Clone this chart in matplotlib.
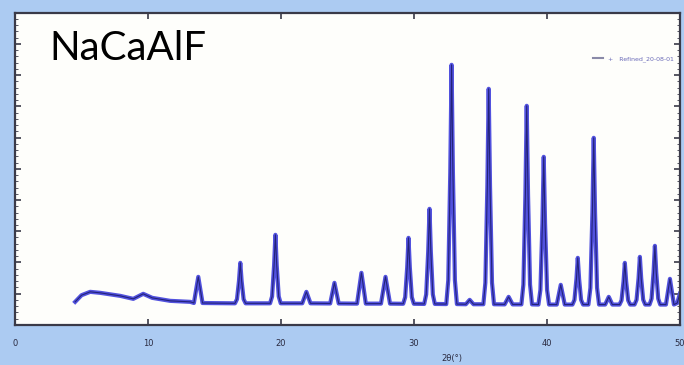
import matplotlib.pyplot as plt
from matplotlib.lines import Line2D
from matplotlib.ticker import MultipleLocator

# XRD pattern (2-theta in degrees, counts)
two_theta = [
    4.52, 5.00, 5.65, 6.40, 7.91, 8.89, 9.64, 10.32, 11.67, 13.18,
    13.45, 13.78, 14.10,
    16.54, 16.69, 16.84, 16.94, 17.04, 17.19, 17.34,
    19.18, 19.33, 19.48, 19.58, 19.68, 19.83, 19.98,
    21.60, 21.91, 22.22,
    23.70, 24.02, 24.34,
    25.72, 26.05, 26.38,
    27.52, 27.86, 28.20,
    29.19, 29.34, 29.49, 29.59, 29.69, 29.84, 29.99,
    30.77, 30.92, 31.07, 31.17, 31.27, 31.42, 31.57,
    32.43, 32.58, 32.73, 32.83, 32.93, 33.08, 33.23,
    33.90, 34.19, 34.48,
    35.22, 35.37, 35.52, 35.62, 35.72, 35.87, 36.02,
    36.82, 37.12, 37.42,
    38.08, 38.23, 38.38, 38.48, 38.58, 38.73, 38.88,
    39.36, 39.51, 39.66, 39.76, 39.86, 40.01, 40.16,
    40.74, 41.04, 41.34,
    41.92, 42.07, 42.22, 42.32, 42.42, 42.57, 42.72,
    43.12, 43.27, 43.42, 43.52, 43.62, 43.77, 43.92,
    44.38, 44.65, 44.92,
    45.46, 45.61, 45.76, 45.86, 45.96, 46.11, 46.26,
    46.59, 46.74, 46.89, 46.99, 47.09, 47.24, 47.39,
    47.72, 47.87, 48.02, 48.12, 48.22, 48.37, 48.52,
    48.95, 49.25, 49.55,
    49.80, 50.00,
]
intensity = [
    737, 950, 1058, 1026, 929, 833, 994, 865, 769, 737,
    700, 1538, 700,
    690, 820, 1403, 1987, 1403, 820, 690,
    690, 910, 1897, 2885, 1897, 910, 690,
    690, 1058, 690,
    685, 1346, 685,
    680, 1667, 680,
    680, 1538, 680,
    675, 886, 1837, 2788, 1837, 886, 675,
    670, 975, 2346, 3718, 2346, 975, 670,
    665, 1432, 4882, 8333, 4882, 1432, 665,
    660, 801, 660,
    660, 1350, 4457, 7564, 4457, 1350, 660,
    655, 897, 655,
    655, 1291, 4155, 7019, 4155, 1291, 655,
    650, 1123, 3254, 5384, 3254, 1123, 650,
    650, 1282, 650,
    650, 800, 1473, 2147, 1473, 800, 650,
    650, 1184, 3589, 5993, 3589, 1184, 650,
    650, 897, 650,
    650, 784, 1385, 1987, 1385, 784, 650,
    650, 803, 1491, 2179, 1491, 803, 650,
    650, 838, 1685, 2532, 1685, 838, 650,
    650, 1474, 650,
    700, 1000,
]
x_ticks = [0, 10, 20, 30, 40, 50]
legend_label = "+   Refined_20-08-01"
title_text = "NaCaAlF"

fig = plt.figure(figsize=(6.84, 3.65), dpi=100, facecolor="#accbf2")
ax = fig.add_axes([0.022, 0.11, 0.972, 0.855])
ax.set_facecolor("#fefefb")

# wide blue trace with a darker core, like the blurry original
ax.plot(two_theta, intensity, color="#5252de", lw=3.0, solid_joinstyle="round")
ax.plot(two_theta, intensity, color="#23237a", lw=0.8)

ax.set_xlim(0, 50)
ax.set_ylim(0, 10000)
ax.set_xticks(x_ticks)
ax.yaxis.set_major_locator(MultipleLocator(1000))
ax.yaxis.set_minor_locator(MultipleLocator(200))
ax.tick_params(which="both", direction="in", top=True, right=True,
               color="#3a3a48")
ax.tick_params(which="major", length=4, width=1.2)
ax.tick_params(which="minor", length=2, width=0.6)
ax.tick_params(axis="x", labelsize=6, pad=10, labelcolor="#2a2a40")
ax.tick_params(axis="y", labelleft=False)
for sp in ax.spines.values():
    sp.set_color("#3a3a48")
    sp.set_linewidth(1.6)

ax.set_xlabel("2θ(°)", fontsize=6, color="#2a2a40")
ax.xaxis.set_label_coords(0.657, -0.095)

handle = Line2D([], [], color="#8a8aa8", lw=1.5)
ax.legend([handle], [legend_label], loc="upper right",
          bbox_to_anchor=(1.0, 0.88), frameon=False, fontsize=4.5,
          handlelength=1.6, labelcolor="#6a6ab8")

fig.text(49 / 684, 1 - 60 / 365, title_text, fontsize=29, family="Lato",
         va="baseline", color="black")

fig.savefig("out.png", dpi=100, facecolor=fig.get_facecolor())
